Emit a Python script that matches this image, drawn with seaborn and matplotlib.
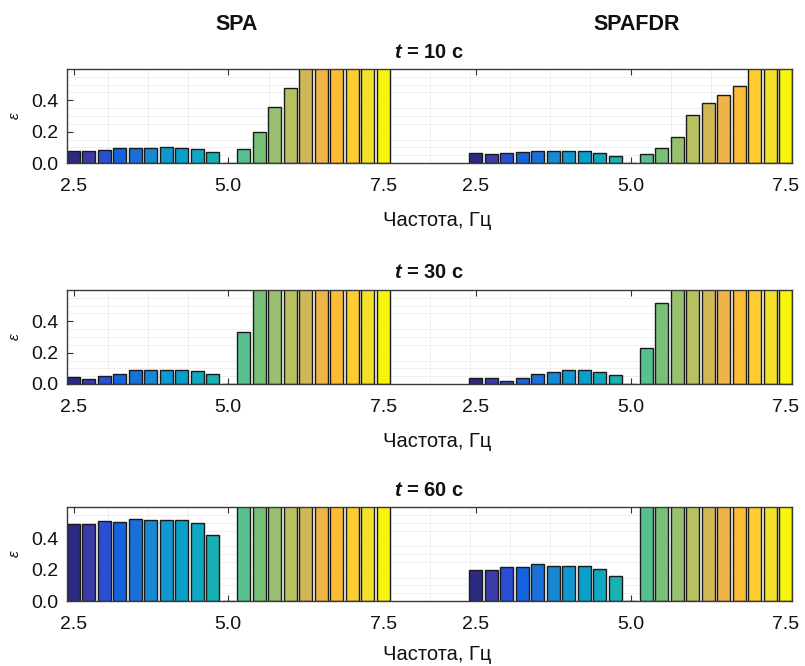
import numpy as np
import pandas as pd
import matplotlib
matplotlib.use("Agg")
import matplotlib.pyplot as plt
import seaborn as sns

# ---------------- data ----------------
freqs = [2.5, 2.75, 3.0, 3.25, 3.5, 3.75, 4.0, 4.25, 4.5, 4.75,
         5.0, 5.25, 5.5, 5.75, 6.0, 6.25, 6.5, 6.75, 7.0, 7.25, 7.5]
tick_freqs = [2.5, 5.0, 7.5]
methods = ["SPA", "SPAFDR"]
times = ["10", "30", "60"]

# values above 0.6 are cut off by the axis limit in the original
spa_10 = [0.074, 0.074, 0.085, 0.096, 0.096, 0.096, 0.104, 0.098, 0.087, 0.070,
          0.0, 0.087, 0.198, 0.360, 0.479, 0.65, 0.65, 0.65, 0.65, 0.65, 0.65]
spafdr_10 = [0.064, 0.055, 0.064, 0.068, 0.074, 0.074, 0.074, 0.074, 0.066, 0.047,
             0.0, 0.057, 0.096, 0.166, 0.304, 0.383, 0.436, 0.494, 0.65, 0.65, 0.65]
spa_30 = [0.042, 0.030, 0.049, 0.066, 0.087, 0.087, 0.087, 0.087, 0.081, 0.066,
          0.0, 0.333, 0.65, 0.65, 0.65, 0.65, 0.65, 0.65, 0.65, 0.65, 0.65]
spafdr_30 = [0.036, 0.036, 0.017, 0.036, 0.066, 0.078, 0.087, 0.087, 0.076, 0.059,
             0.0, 0.231, 0.519, 0.65, 0.65, 0.65, 0.65, 0.65, 0.65, 0.65, 0.65]
spa_60 = [0.494, 0.494, 0.509, 0.506, 0.524, 0.515, 0.515, 0.515, 0.496, 0.419,
          0.0, 0.65, 0.65, 0.65, 0.65, 0.65, 0.65, 0.65, 0.65, 0.65, 0.65]
spafdr_60 = [0.197, 0.197, 0.220, 0.220, 0.233, 0.224, 0.222, 0.222, 0.205, 0.160,
             0.0, 0.65, 0.65, 0.65, 0.65, 0.65, 0.65, 0.65, 0.65, 0.65, 0.65]

bar_colors = ["#2c2a80", "#3a3aa8", "#2850d0", "#1464e0", "#1a70d8", "#1888d0",
              "#1098d0", "#08a0c8", "#10a8c0", "#18b0b0", "#30b8a0", "#58c090",
              "#78bf78", "#98c070", "#b8c060", "#d0b858", "#eeb448", "#fcbc38",
              "#fccc30", "#f4e028", "#f8f40c"]

rows = [(times[0], spa_10, spafdr_10),
        (times[1], spa_30, spafdr_30),
        (times[2], spa_60, spafdr_60)]

# ---------------- style ----------------
sns.set_theme(style="white")
plt.rcParams["font.family"] = ["Liberation Sans", "DejaVu Sans"]
plt.rcParams["mathtext.fontset"] = "custom"
plt.rcParams["mathtext.bfit"] = "Liberation Sans:bold:italic"
plt.rcParams["mathtext.it"] = "Liberation Sans:italic"
plt.rcParams["mathtext.rm"] = "Liberation Sans"
plt.rcParams["text.color"] = "#111111"
plt.rcParams["axes.labelcolor"] = "#111111"
plt.rcParams["xtick.color"] = "#111111"
plt.rcParams["ytick.color"] = "#111111"

W, H = 805, 666
fig = plt.figure(figsize=(W / 100, H / 100), dpi=100)

GAP = 26          # slot offset of the second panel
step = 0.25
def slot(f, off):
    return int(round((f - freqs[0]) / step)) + off

ax_left, ax_right = 67, 792
row_boxes = [(69, 163), (290, 384), (507, 601)]
label_y = [-0.51, -0.51, -0.47]

for (t, left_vals, right_vals), (top, bot), ly in zip(rows, row_boxes, label_y):
    ax = fig.add_axes([ax_left / W, 1 - bot / H, (ax_right - ax_left) / W, (bot - top) / H])
    recs = []
    for off, vals in ((0, left_vals), (GAP, right_vals)):
        for f, v, c in zip(freqs, vals, bar_colors):
            recs.append({"pos": slot(f, off), "eps": v, "col": c})
    df = pd.DataFrame(recs)
    pal = dict(zip(df["pos"], df["col"]))
    sns.barplot(data=df, x="pos", y="eps", hue="pos", palette=pal,
                native_scale=True, dodge=False, legend=False, width=0.84,
                edgecolor="#1a1a1a", linewidth=1.0, saturation=1, ax=ax,
                zorder=3, errorbar=None)
    ax.set_xlim(-0.42, slot(freqs[-1], GAP) + 0.42)
    ax.set_ylim(0, 0.6)
    ax.set_yticks([0.0, 0.2, 0.4])
    ax.set_yticklabels(["0.0", "0.2", "0.4"])
    tpos = [slot(f, 0) for f in tick_freqs] + [slot(f, GAP) for f in tick_freqs]
    ax.set_xticks(tpos)
    ax.set_xticklabels([f"{f:.1f}" for f in tick_freqs] * 2)
    # minor grid
    mx = np.arange(10 - 2.6 * 4, 47, 2.6)
    ax.set_xticks(mx, minor=True)
    ax.set_yticks(np.arange(0.05, 0.6, 0.05), minor=True)
    ax.grid(which="minor", color="#ececec", linewidth=0.6, zorder=0)
    ax.grid(which="major", visible=False)
    ax.tick_params(axis="both", which="major", direction="in", length=4,
                   width=0.8, color="#333333", labelsize=14, pad=6,
                   top=True, right=True, bottom=True, left=True)
    ax.tick_params(axis="both", which="minor", length=0)
    ax.tick_params(axis="x", pad=11)
    for s in ax.spines.values():
        s.set_color("#3a3a3a")
        s.set_linewidth(1.0)
        s.set_zorder(4)
    ax.set_ylabel("ε", fontsize=11, fontstyle="italic")
    ax.yaxis.set_label_coords(-0.063, 0.5)
    ax.set_xlabel("Частота, Гц", fontsize=14.5)
    ax.xaxis.set_label_coords(0.51, ly)
    h = bot - top
    ax.text(0.5, 1 + 17 / h, rf"$\mathbfit{{t}}$ = {t} c", transform=ax.transAxes,
            ha="center", va="center", fontsize=14.5, fontweight="bold")

fig.text(237 / W, 1 - 25 / H, methods[0], ha="center", va="center",
         fontsize=15.5, fontweight="bold")
fig.text(637 / W, 1 - 25 / H, methods[1], ha="center", va="center",
         fontsize=15.5, fontweight="bold")

fig.savefig("out.png", dpi=100)
